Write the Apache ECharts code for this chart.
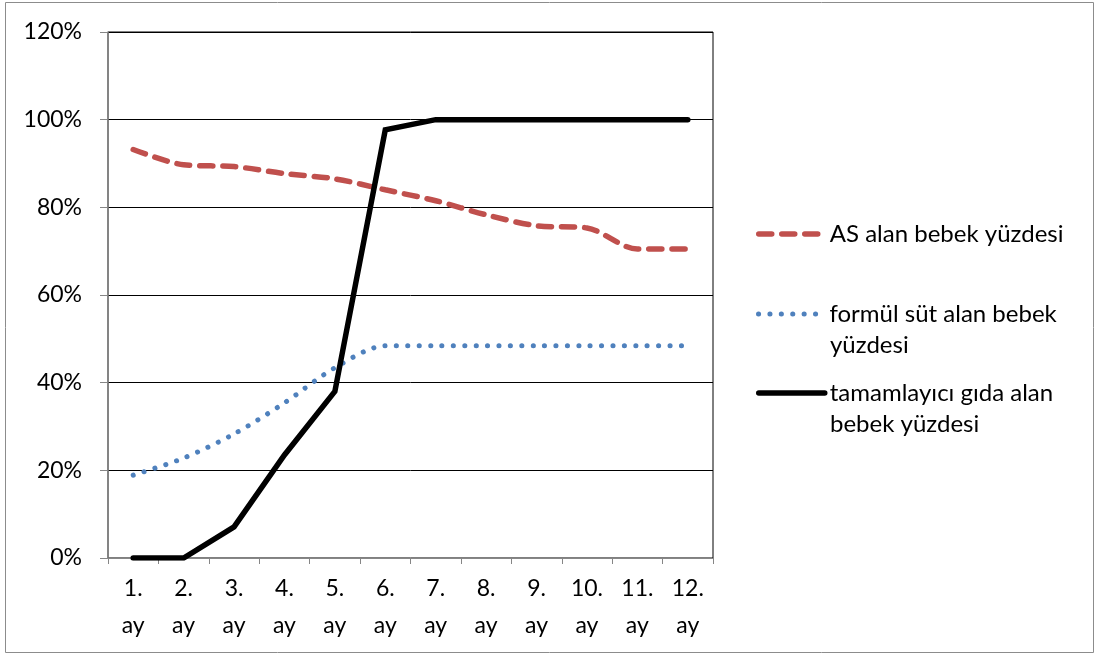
<!DOCTYPE html>
<html>
<head>
<meta charset="utf-8">
<script src="https://cdn.jsdelivr.net/npm/echarts@6/dist/echarts.min.js"></script>
<style>
html,body{margin:0;padding:0;background:#fff;}
#c{width:1099px;height:655px;}
</style>
</head>
<body>
<div id="c"></div>
<script>
const categories = ['1.\nay','2.\nay','3.\nay','4.\nay','5.\nay','6.\nay','7.\nay','8.\nay','9.\nay','10.\nay','11.\nay','12.\nay'];
const seriesNames = ['AS alan bebek yüzdesi', 'formül süt alan bebek yüzdesi', 'tamamlayıcı gıda alan bebek yüzdesi'];
const asValues = [93.2, 89.7, 89.3, 87.7, 86.5, 84.0, 81.5, 78.3, 75.8, 75.3, 70.5, 70.5];
const formulaValues = [18.9, 22.8, 28.3, 35.4, 43.4, 48.4, 48.4, 48.4, 48.4, 48.4, 48.4, 48.4];
const complementaryValues = [0, 0, 7.1, 23.5, 38.0, 97.7, 100, 100, 100, 100, 100, 100];
const yTicks = [0, 20, 40, 60, 80, 100, 120];

const FONT = 'Lato, "Open Sans", sans-serif';
const RED = '#c0504d', BLUE = '#4f81bd', BLACK = '#000';
const redDash = [13, 10], blueDot = [0.1, 11.3];
const chart = echarts.init(document.getElementById('c'), null, {renderer: 'canvas'});

function legendFor(name, top, firstLine, width, lineStyle) {
  return {
    data: [name],
    left: 756,
    top: top,
    orient: 'vertical',
    itemWidth: width,
    itemHeight: 14,
    itemGap: 0,
    padding: 0,
    selectedMode: false,
    itemStyle: {opacity: 0},
    lineStyle: lineStyle,
    textStyle: {fontFamily: FONT, fontSize: 24, color: '#000', padding: [0, 0, 0, Math.max(0, 66 - width)]},
    formatter: () => firstLine
  };
}

chart.setOption({
  animation: false,
  backgroundColor: '#fff',
  textStyle: {fontFamily: FONT},
  grid: {left: 108, top: 32, right: 386, bottom: 97, show: true, borderColor: '#000', borderWidth: 1, containLabel: false},
  legend: [
    legendFor(seriesNames[0], 222, 'AS alan bebek yüzdesi', 62, {color: RED, width: 5.5, type: redDash, cap: 'round'}),
    legendFor(seriesNames[1], 302, 'formül süt alan bebek', 63, {color: BLUE, width: 5, type: blueDot, cap: 'round'}),
    legendFor(seriesNames[2], 381, 'tamamlayıcı gıda alan', 66, {color: BLACK, width: 5.5, type: 'solid', cap: 'round'})
  ],
  graphic: [
    {type: 'rect', shape: {x: 5.5, y: 2.5, width: 1088, height: 650}, style: {fill: 'none', stroke: '#8c8c8c', lineWidth: 1}, z: -1, silent: true},
    {type: 'text', left: 830, top: 333, style: {text: 'yüzdesi', fontFamily: FONT, fontSize: 24, fill: '#000'}},
    {type: 'text', left: 830, top: 412, style: {text: 'bebek yüzdesi', fontFamily: FONT, fontSize: 24, fill: '#000'}}
  ],
  xAxis: {
    type: 'category',
    data: categories,
    boundaryGap: true,
    axisLine: {show: true, lineStyle: {color: '#868686', width: 1}},
    axisTick: {show: true, alignWithLabel: false, length: 6, lineStyle: {color: '#868686'}},
    axisLabel: {fontFamily: FONT, fontSize: 23, color: '#000', lineHeight: 37, margin: 12, interval: 0},
    splitLine: {show: false}
  },
  yAxis: {
    type: 'value',
    min: 0,
    max: 120,
    interval: 20,
    axisLine: {show: true, lineStyle: {color: '#868686', width: 1.5}},
    axisTick: {show: true, length: 8, lineStyle: {color: '#868686'}},
    axisLabel: {fontFamily: FONT, fontSize: 23, color: '#000', margin: 26, formatter: v => (yTicks.includes(v) ? v + '%' : '')},
    splitLine: {show: true, lineStyle: {color: '#000', width: 1}}
  },
  series: [
    {
      name: seriesNames[0], type: 'line', data: asValues, smooth: 0.3, symbol: 'none',
      itemStyle: {color: RED},
      lineStyle: {color: RED, width: 5.5, type: redDash, cap: 'round'}
    },
    {
      name: seriesNames[1], type: 'line', data: formulaValues, smooth: 0.3, symbol: 'none',
      itemStyle: {color: BLUE},
      lineStyle: {color: BLUE, width: 5, type: blueDot, cap: 'round'}
    },
    {
      name: seriesNames[2], type: 'line', data: complementaryValues, smooth: false, symbol: 'none',
      itemStyle: {color: BLACK},
      lineStyle: {color: BLACK, width: 5.5, cap: 'round', join: 'miter'}
    }
  ]
});
</script>
</body>
</html>
